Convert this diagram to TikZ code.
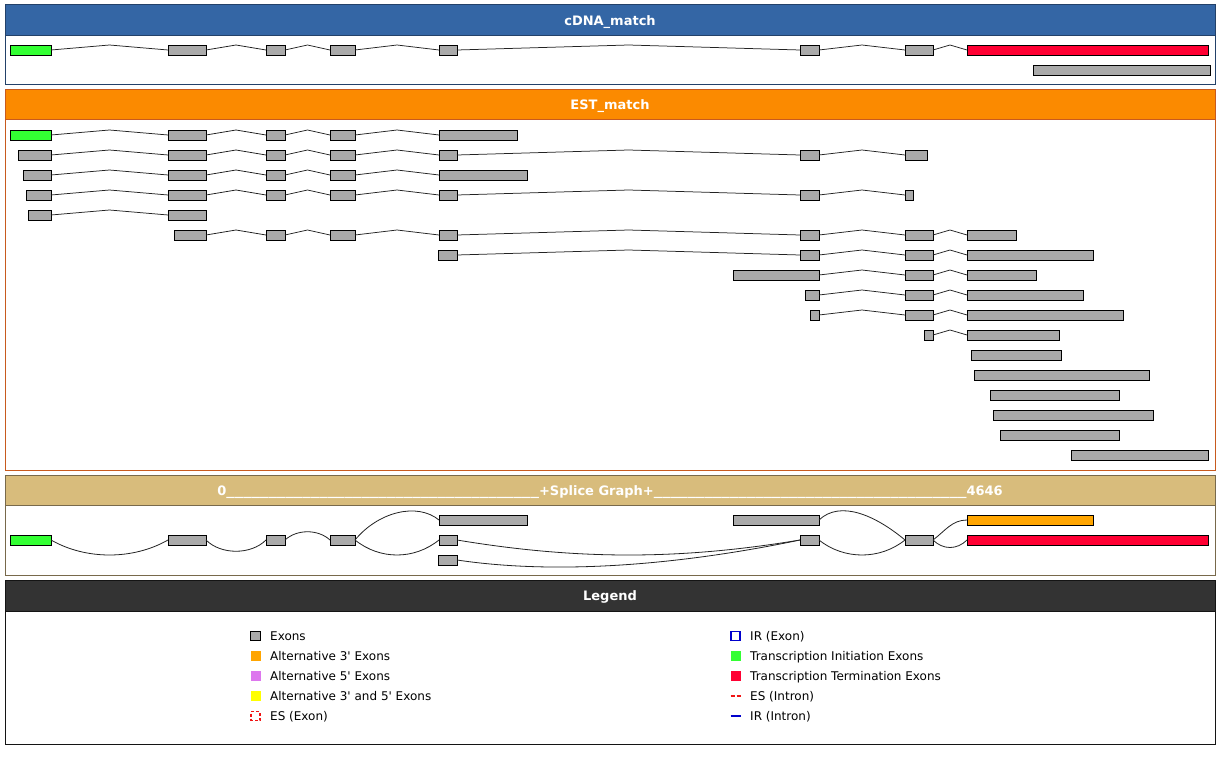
\documentclass[tikz,border=0pt]{standalone}
\usepackage{fontspec}
\setmainfont{DejaVu Sans}
\usepackage{graphicx}
\usetikzlibrary{calc}
\definecolor{exgray}{RGB}{170,170,170}
\definecolor{tieg}{RGB}{51,255,51}
\definecolor{tter}{RGB}{255,0,51}
\definecolor{altthree}{RGB}{255,165,0}
\definecolor{altfive}{RGB}{221,119,238}
\definecolor{altboth}{RGB}{255,255,0}
\definecolor{irblue}{RGB}{0,0,204}
\definecolor{esred}{RGB}{240,20,20}
\definecolor{intr}{RGB}{35,35,35}
\definecolor{cdnaH}{RGB}{52,102,165}
\definecolor{cdnaB}{RGB}{35,65,105}
\definecolor{estH}{RGB}{251,138,0}
\definecolor{estB}{RGB}{200,90,30}
\definecolor{spH}{RGB}{216,188,124}
\definecolor{spB}{RGB}{120,105,75}
\definecolor{legH}{RGB}{51,51,51}
\definecolor{legB}{RGB}{20,20,20}
\newcommand\usrun{\scalebox{1.30}[1]{\_\_\_\_\_\_\_\_\_\_\_\_\_\_\_\_\_\_\_\_\_\_\_\_\_\_\_\_\_\_\_\_\_\_\_\_\_}}
\newcommand\exrow[3]{%
  \foreach \a/\b/\s [count=\i] in {#3} {%
    \node[\s, minimum width={(\b-\a)*1pt}] (#1-\i) at ({(\a+\b)/2},#2) {};
    \ifnum\i>1
      \pgfmathtruncatemacro\j{\i-1}
      \draw[intron] (#1-\j.east) -- ($(#1-\j.east)!.5!(#1-\i.west)+(0,-5)$) -- (#1-\i.west);
    \fi
  }}
\newcommand\exnode[5]{\node[#5, minimum width={(#3-#2)*1pt}] (#1) at ({(#2+#3)/2},#4) {};}
\newcommand\panel[7]{%
  \draw[draw=#6, fill=white, line width=1pt] (5,#2) rectangle (1215,#4);
  \draw[draw=#6, fill=#5, line width=1pt] (5,#2) rectangle (1215,#3);
  \node[htext] (#1) at (610,{(#2+#3)/2+5}) {#7};}
\newcommand\q{\textquotesingle}
\begin{document}
\begin{tikzpicture}[x=1pt,y=-1pt,
  exonbase/.style={rectangle, draw=black, line width=0.8pt, minimum height=10pt, inner sep=0pt, outer sep=0pt},
  exon/.style={exonbase, fill=exgray},
  tie/.style={exonbase, fill=tieg},
  tte/.style={exonbase, fill=tter},
  altex/.style={exonbase, fill=altthree},
  intron/.style={draw=intr, line width=0.75pt},
  sgedge/.style={draw=intr, line width=0.8pt},
  htext/.style={anchor=base, text=white, font=\fontsize{13}{15}\selectfont\bfseries, inner sep=0pt},
  ltext/.style={anchor=base west, font=\fontsize{12}{14}\selectfont, inner sep=0pt, text=black},
  licon/.style={minimum width=10pt, minimum height=10pt, inner sep=0pt, outer sep=0pt}]
\useasboundingbox (0,0) rectangle (1220,765);
\fill[white] (0,0) rectangle (1220,765);

% ---------------- cDNA panel
\panel{cdnaT}{5}{36}{85}{cdnaH}{cdnaB}{cDNA\_match}
\exrow{c1}{50}{10/51/tie, 168/206/exon, 266/285/exon, 330/355/exon, 439/457/exon, 800/819/exon, 905/933/exon, 967/1208/tte}
\exnode{c2}{1033}{1210}{70}{exon}

% ---------------- EST panel
\panel{estT}{90}{120}{470}{estH}{estB}{EST\_match}
\exrow{e1}{135}{10/51/tie, 168/206/exon, 266/285/exon, 330/355/exon, 439/517/exon}
\exrow{e2}{155}{18/51/exon, 168/206/exon, 266/285/exon, 330/355/exon, 439/457/exon, 800/819/exon, 905/927/exon}
\exrow{e3}{175}{23/51/exon, 168/206/exon, 266/285/exon, 330/355/exon, 439/527/exon}
\exrow{e4}{195}{26/51/exon, 168/206/exon, 266/285/exon, 330/355/exon, 439/457/exon, 800/819/exon, 905/913/exon}
\exrow{e5}{215}{28.5/51/exon, 168/206/exon}
\exrow{e6}{235}{174/206/exon, 266/285/exon, 330/355/exon, 439/457/exon, 800/819/exon, 905/933/exon, 967/1016/exon}
\exrow{e7}{255}{438/457/exon, 800/819/exon, 905/933/exon, 967/1093/exon}
\exrow{e8}{275}{733/819/exon, 905/933/exon, 967/1036/exon}
\exrow{e9}{295}{805/819/exon, 905/933/exon, 967/1083/exon}
\exrow{e10}{315}{810/819/exon, 905/933/exon, 967/1123/exon}
\exrow{e11}{335}{924/933/exon, 967/1059/exon}
\exnode{e12}{971}{1061}{355}{exon}
\exnode{e13}{974}{1149}{375}{exon}
\exnode{e14}{990}{1119}{395}{exon}
\exnode{e15}{993}{1153}{415}{exon}
\exnode{e16}{1000}{1119}{435}{exon}
\exnode{e17}{1071}{1208}{455}{exon}

% ---------------- Splice graph panel
\panel{spT}{475}{505.5}{575.5}{spH}{spB}{0\usrun+Splice Graph+\usrun 4646}
\exnode{s1}{10}{51}{540}{tie}
\exnode{s2}{168}{206}{540}{exon}
\exnode{s3}{266}{285}{540}{exon}
\exnode{s4}{330}{355}{540}{exon}
\exnode{s5t}{439}{527}{520}{exon}
\exnode{s5}{439}{457}{540}{exon}
\exnode{s5b}{438}{457}{560}{exon}
\exnode{s6t}{733}{819}{520}{exon}
\exnode{s6}{800}{819}{540}{exon}
\exnode{s7}{905}{933}{540}{exon}
\exnode{s8t}{967}{1093}{520}{altex}
\exnode{s8}{967}{1208}{540}{tte}
\draw[sgedge] (s1.east) .. controls +(35,20) and +(-35,20) .. (s2.west);
\draw[sgedge] (s2.east) .. controls +(15,15) and +(-15,15) .. (s3.west);
\draw[sgedge] (s3.east) .. controls +(12,-11) and +(-12,-11) .. (s4.west);
\draw[sgedge] (s4.east) .. controls +(23,-28) and +(-22,-18) .. (s5t.west);
\draw[sgedge] (s4.east) .. controls +(25,20) and +(-25,20) .. (s5.west);
\draw[sgedge] (s5.east) .. controls +(120,20) and +(-120,20) .. (s6.west);
\draw[sgedge] (s5b.east) .. controls +(100,15) and +(-120,25) .. (s6.west);
\draw[sgedge] (s6t.east) .. controls +(21,-20) and +(-30,-25) .. (s7.west);
\draw[sgedge] (s6.east) .. controls +(25,20) and +(-25,20) .. (s7.west);
\draw[sgedge] (s7.east) .. controls +(12,-9) and +(-15,0) .. (s8t.west);
\draw[sgedge] (s7.east) .. controls +(10,10) and +(-10,10) .. (s8.west);

% ---------------- Legend panel
\panel{legT}{580}{611}{744.5}{legH}{legB}{Legend}
\node[licon, fill=exgray, draw=black, line width=0.8pt, minimum width=9.5pt, minimum height=9.5pt] (li1) at (255.5,636) {};
\node[ltext] (lt1) at (270,640) {Exons};
\node[licon, fill=altthree] (li2) at (255.5,656) {};
\node[ltext] (lt2) at (270,660) {Alternative 3\q{} Exons};
\node[licon, fill=altfive] (li3) at (255.5,676) {};
\node[ltext] (lt3) at (270,680) {Alternative 5\q{} Exons};
\node[licon, fill=altboth] (li4) at (255.5,696) {};
\node[ltext] (lt4) at (270,700) {Alternative 3\q{} and 5\q{} Exons};
\node[licon, draw=esred, line width=1.5pt, dash pattern=on 3pt off 2pt, dash phase=1pt, minimum width=9pt, minimum height=9pt] (li5) at (255.5,716) {};
\node[ltext] (lt5) at (270,720) {ES (Exon)};
\node[licon, draw=irblue, line width=1.5pt, minimum width=9pt, minimum height=9pt] (ri1) at (735.5,636) {};
\node[ltext] (rt1) at (750,640) {IR (Exon)};
\node[licon, fill=tieg] (ri2) at (735.5,656) {};
\node[ltext] (rt2) at (750,660) {Transcription Initiation Exons};
\node[licon, fill=tter] (ri3) at (735.5,676) {};
\node[ltext] (rt3) at (750,680) {Transcription Termination Exons};
\coordinate (ri4a) at (730.5,696);
\coordinate (ri4b) at (740.5,696);
\draw[draw=esred, line width=1.3pt, dash pattern=on 4pt off 2pt] (ri4a) -- (ri4b);
\node[ltext] (rt4) at (750,700) {ES (Intron)};
\coordinate (ri5a) at (730.5,716);
\coordinate (ri5b) at (740.5,716);
\draw[draw=irblue, line width=1.5pt] (ri5a) -- (ri5b);
\node[ltext] (rt5) at (750,720) {IR (Intron)};
\end{tikzpicture}
\end{document}
